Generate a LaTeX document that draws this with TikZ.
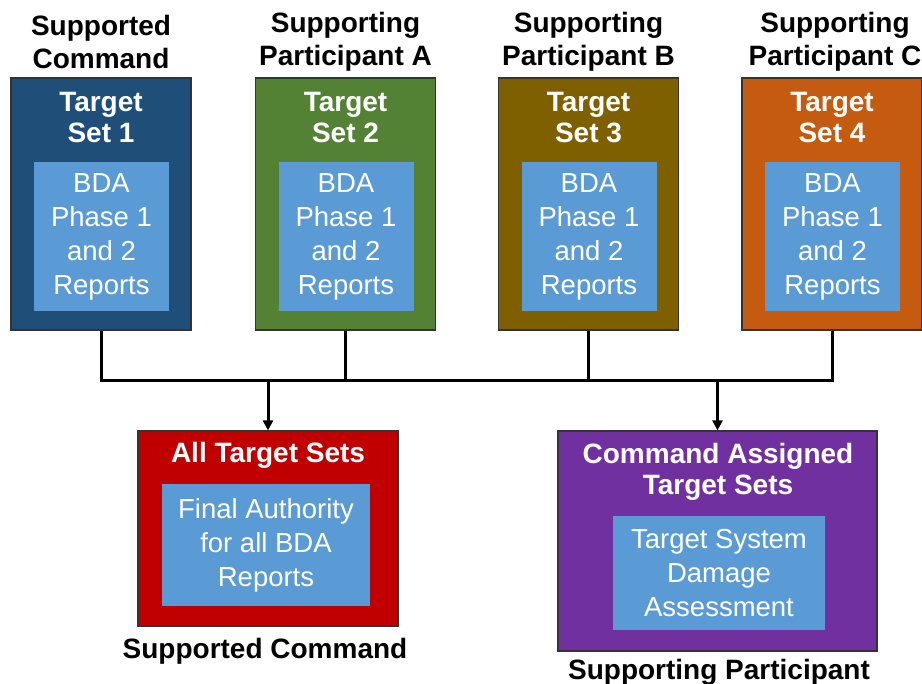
\documentclass[tikz,border=0pt]{standalone}
\usepackage{fontspec}
\setmainfont{Liberation Sans}
\usetikzlibrary{arrows.meta}
\definecolor{cblue}{HTML}{1F4E79}
\definecolor{cgreen}{HTML}{548235}
\definecolor{colive}{HTML}{7F6000}
\definecolor{corange}{HTML}{C55A11}
\definecolor{cred}{HTML}{C00000}
\definecolor{cpurple}{HTML}{7030A0}
\definecolor{inblue}{HTML}{5B9BD5}
\definecolor{edge}{HTML}{333333}
\begin{document}
\begin{tikzpicture}[x=1pt,y=-1pt,
  outerbox/.style={draw=edge, line width=1.2pt, inner sep=0pt},
  topbox/.style={outerbox, minimum width=180pt, minimum height=252pt},
  innerbox/.style={fill=inblue, text=white, inner sep=0pt, align=center,
    font=\fontsize{27.5}{34}\selectfont},
  topinner/.style={innerbox, minimum width=135pt, minimum height=149pt},
  boxtitle/.style={text=white, align=center, inner sep=0pt, font=\bfseries\fontsize{28}{31}\selectfont},
  headlabel/.style={text=black, align=center, inner sep=0pt, font=\bfseries\fontsize{28}{33}\selectfont},
  conn/.style={line width=3pt, black},
  arr/.style={conn, -{Triangle[length=10pt,width=10pt]}}]
\useasboundingbox (0,0) rectangle (922,684);

% top boxes
\node[topbox, fill=cblue]   (b1) at (101,204) {};
\node[topbox, fill=cgreen]  (b2) at (345.5,204) {};
\node[topbox, fill=colive]  (b3) at (588.5,204) {};
\node[topbox, fill=corange] (b4) at (832,204) {};

\node[headlabel] (h1) at (101,42) {Supported\\Command};
\node[headlabel] (h2) at (345.5,42) {Supporting\\Participant A};
\node[headlabel] (h3) at (588.5,42) {Supporting\\Participant B};
\node[headlabel] (h4) at (835,42) {Supporting\\Participant C};

\node[boxtitle] (t1) at (101,118) {Target\\Set 1};
\node[boxtitle] (t2) at (345.5,118) {Target\\Set 2};
\node[boxtitle] (t3) at (588.5,118) {Target\\Set 3};
\node[boxtitle] (t4) at (832,118) {Target\\Set 4};

\node[topinner] (i1) at (101.5,236.5) {BDA\\Phase 1\\and 2\\Reports};
\node[topinner] (i2) at (346,236.5) {BDA\\Phase 1\\and 2\\Reports};
\node[topinner] (i3) at (589,236.5) {BDA\\Phase 1\\and 2\\Reports};
\node[topinner] (i4) at (832.5,236.5) {BDA\\Phase 1\\and 2\\Reports};

% bottom boxes
\node[outerbox, fill=cred, minimum width=260pt, minimum height=195pt] (red) at (268,528.5) {};
\node[boxtitle] (redt) at (268,455) {All Target Sets};
\node[innerbox, minimum width=208pt, minimum height=122pt] (redi) at (266,545) {Final Authority\\for all BDA\\Reports};
\node[headlabel] (redl) at (265,651) {Supported Command};

\node[outerbox, fill=cpurple, minimum width=319pt, minimum height=220pt] (pur) at (717.5,541) {};
\node[boxtitle] (purt) at (718,471.5) {Command Assigned\\Target Sets};
\node[innerbox, minimum width=212pt, minimum height=114pt] (puri) at (719,573) {Target System\\Damage\\Assessment};
\node[headlabel] (purl) at (719,672) {Supporting Participant};

% connectors
\coordinate (bus) at (0,381);
\draw[conn] (b1.south) |- (b4.south |- bus) -- (b4.south);
\draw[conn] (b2.south) -- (b2.south |- bus);
\draw[conn] (b3.south) -- (b3.south |- bus);
\draw[arr] (red.north |- bus) -- (red.north);
\draw[arr] (pur.north |- bus) -- (pur.north);
\end{tikzpicture}
\end{document}
